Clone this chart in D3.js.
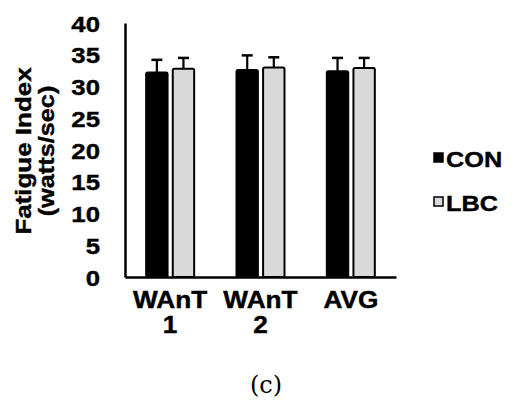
<!DOCTYPE html>
<html>
<head>
<meta charset="utf-8">
<script src="https://cdn.jsdelivr.net/npm/d3@7"></script>
<style>
  body { margin: 0; background: #fff; }
  text { font-family: "Liberation Sans", Arial, sans-serif; font-weight: bold; fill: #000; stroke: #000; stroke-width: 0.4px; }
  text.caption { stroke: none; }
</style>
</head>
<body>
<div id="chart"></div>
<script>
var groups = ["WAnT 1", "WAnT 2", "AVG"];
var series = ["CON", "LBC"];
var conValues = [32.2, 32.6, 32.4];
var conErrors = [2.0, 2.3, 2.1];
var lbcValues = [32.8, 33.0, 32.9];
var lbcErrors = [1.7, 1.6, 1.6];
var yTicks = [0, 5, 10, 15, 20, 25, 30, 35, 40];

// the text in the source is a little wider than plain Arial: scale it sideways
function widen(sel, f) {
    sel.each(function() {
        var t = d3.select(this);
        var tx = +t.attr("x") || 0;
        var ty = +t.attr("y") || 0;
        t.attr("x", 0).attr("y", 0)
            .attr("transform", "translate(" + tx + "," + ty + ") scale(" + f + ",1)");
    });
}

document.addEventListener("DOMContentLoaded", function(e) {
    var width = 512;
    var height = 405;
    var colors = {CON: "#000000", LBC: "#d9d9d9"};

    var svg = d3.select("#chart")
        .append("svg")
        .attr("width", width)
        .attr("height", height);

    var x = d3.scaleBand()
        .domain(groups)
        .range([125, 396]);

    var xInner = d3.scaleBand()
        .domain(series)
        .range([0, 50])
        .paddingInner(0.12);

    var y = d3.scaleLinear()
        .domain([0, 40])
        .range([277, 23]);

    var data = [];
    for (var i = 0; i < groups.length; i++) {
        data.push({group: groups[i], key: "CON", value: conValues[i], err: conErrors[i]});
        data.push({group: groups[i], key: "LBC", value: lbcValues[i], err: lbcErrors[i]});
    }

    var offset = (x.bandwidth() - 50) / 2;
    function cx(d) { return x(d.group) + offset + xInner(d.key) + xInner.bandwidth() / 2; }

    // error bars (only upward)
    var eb = svg.append("g");
    eb.selectAll("line.stem")
        .data(data)
        .enter()
        .append("line")
        .attr("x1", cx)
        .attr("x2", cx)
        .attr("y1", function(d) { return y(d.value); })
        .attr("y2", function(d) { return y(d.value + d.err); })
        .attr("stroke", "#000")
        .attr("stroke-width", 2.2);
    eb.selectAll("line.cap")
        .data(data)
        .enter()
        .append("line")
        .attr("x1", function(d) { return cx(d) - 5.5; })
        .attr("x2", function(d) { return cx(d) + 5.5; })
        .attr("y1", function(d) { return y(d.value + d.err); })
        .attr("y2", function(d) { return y(d.value + d.err); })
        .attr("stroke", "#000")
        .attr("stroke-width", 2.5);

    // bars
    svg.append("g")
        .selectAll("rect")
        .data(data)
        .enter()
        .append("rect")
        .attr("x", function(d) { return x(d.group) + offset + xInner(d.key) + 1; })
        .attr("y", function(d) { return y(d.value); })
        .attr("width", xInner.bandwidth() - 2)
        .attr("height", function(d) { return y(0) - y(d.value); })
        .attr("rx", 1.5)
        .attr("fill", function(d) { return colors[d.key]; })
        .attr("stroke", "#000")
        .attr("stroke-width", 2);

    // y axis
    var yAxis = svg.append("g")
        .attr("transform", "translate(125,0)")
        .call(d3.axisLeft(y).tickValues(yTicks).tickSize(0).tickPadding(25));
    yAxis.select(".domain").attr("stroke", "#000").attr("stroke-width", 2.5);
    yAxis.selectAll("text")
        .attr("font-size", 23)
        .attr("y", 8)
        .attr("dy", null)
        .style("font-family", "'Liberation Sans', Arial, sans-serif")
        .style("font-weight", "bold")
        .call(widen, 1.12);

    // x axis
    var xAxis = svg.append("g")
        .attr("transform", "translate(0,277)")
        .call(d3.axisBottom(x).tickSize(0).tickFormat(""));
    xAxis.select(".domain").attr("stroke", "#000").attr("stroke-width", 2.5);

    var xLabels = svg.append("g");
    groups.forEach(function(d) {
        var parts = d.split(" ");
        for (var j = 0; j < parts.length; j++) {
            xLabels.append("text")
                .attr("x", x(d) + x.bandwidth() / 2)
                .attr("y", 308 + j * 25)
                .attr("text-anchor", "middle")
                .attr("font-size", 23)
                .text(parts[j]);
        }
    });
    xLabels.selectAll("text").call(widen, 1.14);

    // y title
    svg.append("text")
        .attr("transform", "translate(31,151) rotate(-90) scale(1.18,1)")
        .attr("text-anchor", "middle")
        .attr("font-size", 22)
        .text("Fatigue Index");
    svg.append("text")
        .attr("transform", "translate(54,151) rotate(-90) scale(1.15,1)")
        .attr("text-anchor", "middle")
        .attr("font-size", 22)
        .text("(watts/sec)");

    // legend
    var legend = svg.append("g");
    for (var k = 0; k < series.length; k++) {
        var ly = 158 + k * 44;
        legend.append("rect")
            .attr("x", 434)
            .attr("y", ly - 5)
            .attr("width", 9)
            .attr("height", 9)
            .attr("fill", colors[series[k]])
            .attr("stroke", "#000")
            .attr("stroke-width", 1.5);
        legend.append("text")
            .attr("x", 446)
            .attr("y", ly + 9)
            .attr("font-size", 22)
            .text(series[k])
            .call(widen, 1.15);
    }

    // caption
    svg.append("text")
        .attr("class", "caption")
        .attr("x", 266)
        .attr("y", 393)
        .attr("text-anchor", "middle")
        .attr("font-size", 24)
        .style("font-family", "'DejaVu Serif', serif")
        .style("font-weight", "normal")
        .text("(c)");
});
</script>
</body>
</html>
